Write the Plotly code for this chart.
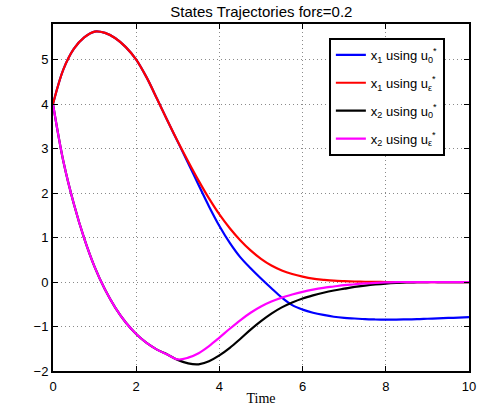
import plotly.graph_objects as go

# time grid and series values
t = [0.0, 0.25, 0.5, 0.75, 1.0, 1.25, 1.5, 1.75, 2.0, 2.25, 2.5, 2.75, 3.0, 3.25, 3.5, 3.75,
     4.0, 4.25, 4.5, 4.75, 5.0, 5.25, 5.5, 5.75, 6.0, 6.25, 6.5, 6.75, 7.0, 7.25, 7.5, 7.75,
     8.0, 8.25, 8.5, 8.75, 9.0, 9.25, 9.5, 9.75, 10.0]

x1_u0 = [4.0, 4.78, 5.24, 5.5, 5.63, 5.6, 5.48, 5.28, 5.0, 4.6, 4.12, 3.63, 3.15, 2.67, 2.18, 1.70,
         1.26, 0.88, 0.56, 0.31, 0.08, -0.14, -0.35, -0.52, -0.62, -0.69, -0.74, -0.78, -0.805, -0.82, -0.835, -0.842,
         -0.845, -0.845, -0.84, -0.835, -0.826, -0.818, -0.808, -0.8, -0.79]

x1_ue = [4.0, 4.78, 5.24, 5.5, 5.63, 5.6, 5.48, 5.28, 5.0, 4.6, 4.12, 3.63, 3.16, 2.71, 2.28, 1.88,
         1.52, 1.21, 0.94, 0.71, 0.52, 0.37, 0.26, 0.18, 0.12, 0.075, 0.05, 0.03, 0.02, 0.012, 0.006, 0.003,
         0.0, 0.0, 0.0, 0.0, 0.0, 0.0, 0.0, 0.0, 0.0]

x2_u0 = [4.0, 2.71, 1.76, 0.98, 0.34, -0.17, -0.58, -0.91, -1.17, -1.37, -1.52, -1.63, -1.75, -1.83, -1.85, -1.78,
         -1.65, -1.48, -1.28, -1.07, -0.88, -0.71, -0.57, -0.46, -0.37, -0.30, -0.24, -0.19, -0.15, -0.11, -0.08, -0.055,
         -0.035, -0.02, -0.01, -0.005, 0.0, 0.0, 0.0, 0.0, 0.0]

x2_ue = [4.0, 2.71, 1.76, 0.98, 0.34, -0.17, -0.58, -0.91, -1.17, -1.37, -1.52, -1.63, -1.74, -1.70, -1.6, -1.44,
         -1.25, -1.05, -0.86, -0.69, -0.55, -0.44, -0.35, -0.28, -0.22, -0.17, -0.13, -0.1, -0.07, -0.05, -0.03, -0.02,
         -0.01, 0.0, 0.0, 0.0, 0.0, 0.0, 0.0, 0.0, 0.0]

names = ["x<sub>1</sub> using u<sub>0</sub><sup>*</sup>",
         "x<sub>1</sub> using u<sub>ε</sub><sup>*</sup>",
         "x<sub>2</sub> using u<sub>0</sub><sup>*</sup>",
         "x<sub>2</sub> using u<sub>ε</sub><sup>*</sup>"]
colors = ["#0000ff", "#ff0000", "#000000", "#ff00ff"]
series = [x1_u0, x1_ue, x2_u0, x2_ue]

fig = go.Figure()
for i, (y, n, c) in enumerate(zip(series, names, colors)):
    fig.add_trace(go.Scatter(x=t, y=y, mode="lines", name=n, legendgroup=str(i),
                             line=dict(color=c, width=2.2, shape="spline", smoothing=1.0)))

axis_common = dict(showline=True, linecolor="black", linewidth=2, mirror="ticks",
                   ticks="inside", ticklen=5, tickcolor="black", tickwidth=1,
                   showgrid=True, gridcolor="#8a8a8a", griddash="1px,3px", gridwidth=1,
                   zeroline=False, tickfont=dict(family="Liberation Sans, Arial", size=13, color="black"))

fig.update_layout(
    width=484, height=407,
    margin=dict(l=53, r=15, t=24, b=36),
    paper_bgcolor="white", plot_bgcolor="white",
    title=dict(text="States Trajectories forε=0.2", x=0.54, xanchor="center", y=0.97, yanchor="middle",
               font=dict(family="Liberation Sans, Arial", size=15, color="black")),
    xaxis=dict(range=[0, 10], tickvals=[0, 2, 4, 6, 8, 10], ticklabelstandoff=2, automargin=False,
               title=dict(text="Time", font=dict(family="Liberation Serif, Times New Roman", size=14, color="black"), standoff=1),
               **axis_common),
    yaxis=dict(range=[-2, 5.8], tickvals=[-2, -1, 0, 1, 2, 3, 4, 5], **axis_common),
    legend=dict(x=0.942, y=0.96, xanchor="right", yanchor="top", bgcolor="white",
                bordercolor="black", borderwidth=2, tracegroupgap=8,
                font=dict(family="Liberation Sans, Arial", size=13, color="black")),
    showlegend=True,
)

fig.write_html("out.html")
